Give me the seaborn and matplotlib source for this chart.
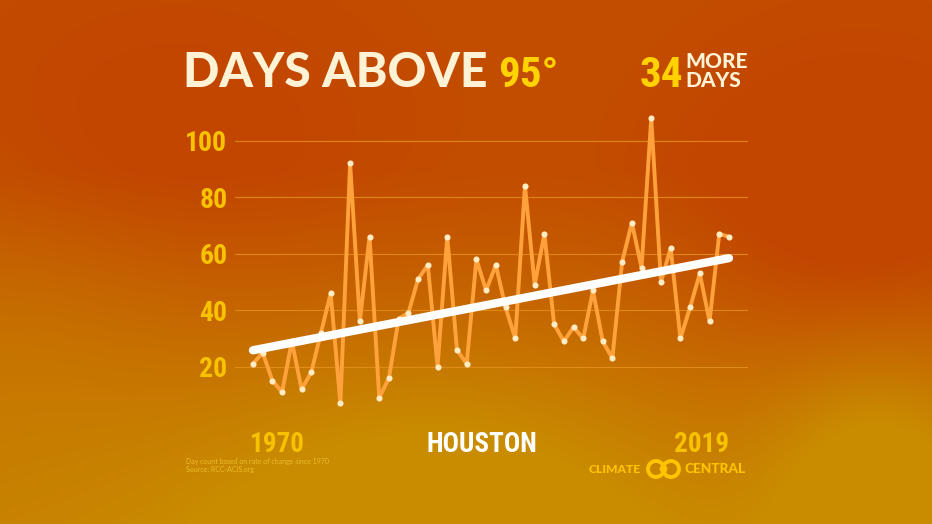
import numpy as np
import pandas as pd
import matplotlib
matplotlib.use("Agg")
import matplotlib.pyplot as plt
import seaborn as sns
from matplotlib.patches import Circle

# ---------------- data ----------------
years = list(range(1970, 2020))
days = [21, 25, 15, 11, 29, 12, 18, 32, 46, 7,
        92, 36, 66, 9, 16, 37, 39, 51, 56, 20,
        66, 26, 21, 58, 47, 56, 41, 30, 84, 49,
        67, 35, 29, 34, 30, 47, 29, 23, 57, 71,
        55, 108, 50, 62, 30, 41, 53, 36, 67, 66]
y_ticks = [20, 40, 60, 80, 100]
title_main = "DAYS ABOVE"
title_temp = "95°"
more_count = "34"
city = "HOUSTON"
start_label = "1970"
end_label = "2019"
notes = ["Day count based on rate of change since 1970", "Source: RCC-ACIS.org"]

df = pd.DataFrame({"year": years, "days": days})

W, H = 932, 524
sns.set_theme(style="white")
COND = ["Roboto Condensed", "Liberation Sans Narrow", "DejaVu Sans"]
GEO = ["Lato", "DejaVu Sans"]
plt.rcParams["font.family"] = GEO

fig = plt.figure(figsize=(W / 100, H / 100), dpi=100)

# ---------------- background ----------------
bg = fig.add_axes([0, 0, 1, 1], zorder=-10)
yy, xx = np.mgrid[0:H, 0:W].astype(float)
g = 0.10 + 0.75 * np.clip((yy - 170) / 380, 0, 1)
g += 0.45 * np.exp(-(((xx - 430) / 260) ** 2 + ((yy - 500) / 170) ** 2))
g += 0.50 * np.exp(-(((xx - 880) / 110) ** 2 + ((yy - 470) / 140) ** 2))
g += 0.20 * np.exp(-(((xx - 0) / 200) ** 2 + ((yy - 330) / 160) ** 2))
g -= 0.35 * np.exp(-(((xx - 860) / 160) ** 2 + ((yy - 230) / 150) ** 2))
g -= 0.15 * np.exp(-(((xx - 170) / 200) ** 2 + ((yy - 150) / 150) ** 2))
g = np.clip(g, 0, 1)[..., None]
c_red = np.array([194, 70, 0]) / 255
c_gold = np.array([201, 140, 0]) / 255
img = c_red * (1 - g) + c_gold * g
bg.imshow(img, aspect="auto", extent=[0, W, H, 0])
bg.set_xlim(0, W)
bg.set_ylim(H, 0)
bg.axis("off")

# ---------------- chart ----------------
ax = fig.add_axes([235 / W, (H - 423.2) / H, 513 / W, (423.2 - 98.3) / H])
ax.patch.set_alpha(0)
for s in ax.spines.values():
    s.set_visible(False)

sns.regplot(data=df, x="year", y="days", scatter=False, ci=None, ax=ax,
            line_kws=dict(color="white", lw=6, solid_capstyle="round", zorder=4))
sns.lineplot(data=df, x="year", y="days", ax=ax, color="#FFA23C", lw=2.8,
             marker="o", markersize=4.4, markerfacecolor="#FFEBC4",
             markeredgewidth=0, zorder=3)

ax.set_xlim(1968.15, 2020.96)
ax.set_ylim(0, 115)
ax.set_yticks(y_ticks)
ax.set_yticklabels([str(v) for v in y_ticks], family=COND, weight="bold",
                   fontsize=20, color="#F7C200")
ax.set_xticks([])
ax.tick_params(axis="y", length=0, pad=5.5)
ax.grid(axis="y", color="#E6901E", lw=0.8, alpha=0.85)
ax.grid(axis="x", visible=False)
ax.set_axisbelow(True)
ax.set_xlabel("")
ax.set_ylabel("")

def ftxt(x, y, s, **kw):
    return fig.text(x / W, 1 - y / H, s, **kw)

# ---------------- titles ----------------
ftxt(183, 87, title_main, family=GEO, weight="black", fontsize=34.5,
     color="#FFF2D5", va="baseline", ha="left")
ftxt(498, 87, title_temp, family=COND, weight="bold",
     fontsize=31, color="#FFD200", va="baseline", ha="left")
ftxt(683, 87, more_count, family=COND, weight="bold",
     fontsize=31, color="#FFD200", va="baseline", ha="right")
ftxt(685, 68, "MORE", family=GEO, weight="black", fontsize=15,
     color="#FFF2D5", va="baseline", ha="left")
ftxt(685, 87, "DAYS", family=GEO, weight="black", fontsize=15,
     color="#FFF2D5", va="baseline", ha="left")

# ---------------- bottom labels ----------------
ftxt(250, 452, start_label, family=COND, weight="bold",
     fontsize=19.5, color="#F7C200", va="baseline", ha="left")
ftxt(482, 452, city, family=COND, weight="bold",
     fontsize=19.5, color="white", va="baseline", ha="center")
ftxt(729, 452, end_label, family=COND, weight="bold",
     fontsize=19.5, color="#F7C200", va="baseline", ha="right")
ftxt(186, 464, notes[0], family=GEO, fontsize=5, color="#EDBB2A",
     va="baseline", ha="left")
ftxt(186, 472, notes[1], family=GEO, fontsize=5, color="#EDBB2A",
     va="baseline", ha="left")

# logo
ftxt(589, 473, "CLIMATE", family=GEO, weight="black", fontsize=8.7,
     color="#FFC400", va="baseline", ha="left")
ftxt(746, 473, "CENTRAL", family=GEO, weight="black", fontsize=9.8,
     color="#FFC400", va="baseline", ha="right")
for cx in (656, 671):
    bg.add_patch(Circle((cx, 469), 8, fill=False, ec="#FFC400", lw=2.8))
bg.add_patch(Circle((663.5, 469), 3.2, color="#FFC400"))

fig.savefig("out.png", dpi=100)
